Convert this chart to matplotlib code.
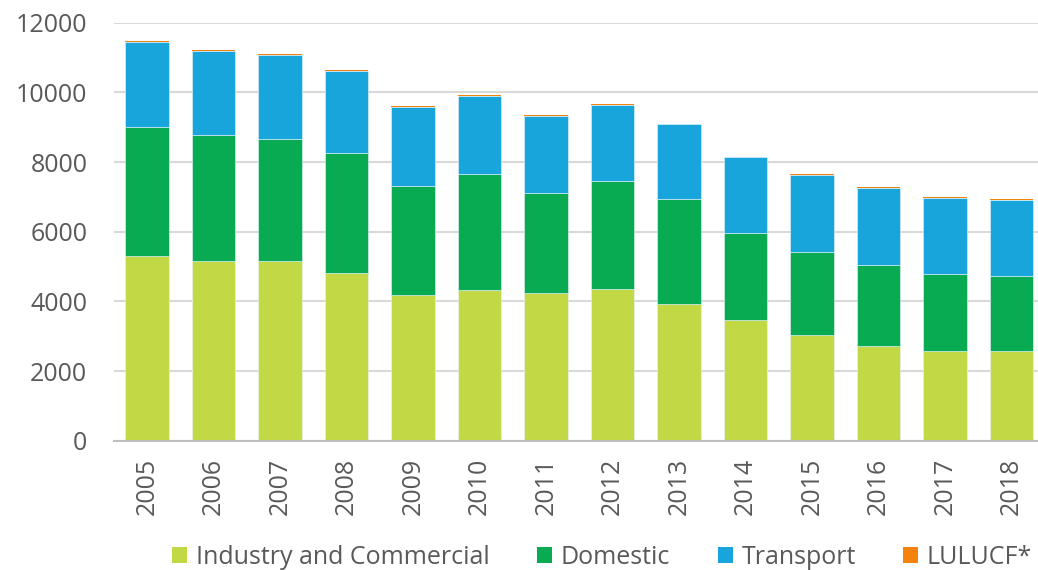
import matplotlib
matplotlib.use("Agg")
import matplotlib.pyplot as plt
from matplotlib.patches import Patch
import numpy as np

years = ["2005", "2006", "2007", "2008", "2009", "2010", "2011",
         "2012", "2013", "2014", "2015", "2016", "2017", "2018"]
industry = [5303, 5151, 5159, 4806, 4175, 4327, 4232, 4365, 3934, 3466, 3027, 2720, 2586, 2568]
domestic = [3693, 3615, 3492, 3461, 3128, 3320, 2870, 3081, 3004, 2488, 2400, 2316, 2191, 2152]
transport = [2446, 2418, 2418, 2343, 2265, 2247, 2227, 2188, 2141, 2178, 2199, 2218, 2199, 2190]
lulucf = [30, 30, 30, 30, 30, 20, 20, 30, 20, 20, 30, 20, 20, 20]
series_names = ["Industry and Commercial", "Domestic", "Transport", "LULUCF*"]
colors = ["#C3D845", "#08AA52", "#18A5DC", "#F5820A"]
yticks = [0, 2000, 4000, 6000, 8000, 10000, 12000]

plt.rcParams['font.family'] = ['Open Sans', 'DejaVu Sans']

fig = plt.figure(figsize=(10.38, 5.70), dpi=100)
ax = fig.add_axes([113.75 / 1038, 1 - 440.8 / 570, (1044.7 - 113.75) / 1038, 418.2 / 570])

x = np.arange(len(years))
bottom = np.zeros(len(years))
for i, (vals, col) in enumerate(zip([industry, domestic, transport, lulucf], colors)):
    if i < 3:
        ax.bar(x, vals, width=0.66, bottom=bottom, color=col,
               edgecolor="#E8F4F8", linewidth=0.4, zorder=3)
    else:
        ax.bar(x, vals, width=0.66, bottom=bottom, color=col,
               edgecolor='none', linewidth=0, zorder=3)
    bottom += np.array(vals)

ax.set_xlim(-0.5, len(years) - 0.5)
ax.set_ylim(0, 12000)
ax.set_yticks(yticks)
ax.set_yticklabels([str(v) for v in yticks])
ax.set_xticks(x)
ax.set_xticklabels(years, rotation=90)
ax.tick_params(axis='both', length=0, labelsize=18, labelcolor="#595959")
ax.tick_params(axis='y', pad=19)
ax.tick_params(axis='x', pad=12)
ax.yaxis.grid(True, color="#D9D9D9", linewidth=1.5, zorder=0)
ax.set_axisbelow(True)
for s in ["top", "right", "left"]:
    ax.spines[s].set_visible(False)
ax.spines["bottom"].set_color("#BFBFBF")
ax.spines["bottom"].set_linewidth(1.5)
ax.spines["bottom"].set_zorder(4)

handles = [Patch(facecolor=c, edgecolor='none') for c in colors]
leg = fig.legend(handles, series_names, loc='center', bbox_to_anchor=(602 / 1038, 1 - 557 / 570),
                 ncol=4, frameon=False, handlelength=0.6, handleheight=0.6,
                 handletextpad=0.35, columnspacing=1.9,
                 prop={'family': ['Open Sans', 'DejaVu Sans'], 'size': 18})
for t in leg.get_texts():
    t.set_color("#595959")

fig.savefig("out.png", dpi=100)
